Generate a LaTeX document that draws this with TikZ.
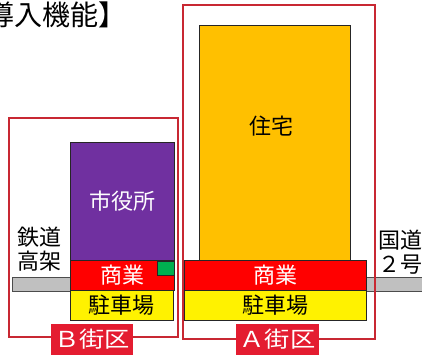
\documentclass[tikz,border=0pt]{standalone}
\usepackage{fontspec}
\setmainfont{Noto Sans CJK JP}
\definecolor{framered}{RGB}{200,40,50}
\definecolor{labelred}{RGB}{228,28,48}
\definecolor{purp}{RGB}{112,48,160}
\definecolor{oran}{RGB}{255,192,0}
\definecolor{grn}{RGB}{0,176,80}
\definecolor{road}{RGB}{192,192,192}
\begin{document}
\begin{tikzpicture}[x=1pt,y=-1pt,
  box/.style={draw=black!85, line width=0.9pt, inner sep=0pt, minimum width=#1},
  txt/.style={font=\fontsize{22}{24}\selectfont, inner sep=0pt},
  frame/.style={draw=framered, line width=2pt},
  lab/.style={fill=labelred, text=white, inner sep=0pt, font=\fontsize{22}{24}\selectfont, minimum height=31pt}
]
\useasboundingbox (0,0) rectangle (422,356);
\fill[white] (0,0) rectangle (422,356);
% title
\node[anchor=west, inner sep=0pt, font=\fontsize{28}{30}\selectfont] (title) at (-42,15) {【導入機能】};
% roads
\node[box=58pt, minimum height=14pt, fill=road, draw=black!70] (roadL) at (41,284) {};
\node[box=60pt, minimum height=14pt, fill=road, draw=black!70] (roadR) at (396,284) {};
% B block
\node[box=104pt, minimum height=118pt, fill=purp, text=white, txt] (city) at (122,201) {市役所};
\node[box=104pt, minimum height=30pt, fill=red, text=white, txt] (comB) at (122,275) {商業};
\node[box=17pt, minimum height=14pt, fill=grn] (green) at (165.5,268) {};
\node[box=103pt, minimum height=30pt, fill=yellow, txt] (parkB) at (121.5,305) {駐車場};
% A block
\node[box=151pt, minimum height=235pt, fill=oran] (house) at (274.5,142.5) {};
\node[txt] (houseT) at (271,126) {住宅};
\node[box=182pt, minimum height=30pt, fill=red, text=white, txt] (comA) at (275,275) {商業};
\node[box=182pt, minimum height=30pt, fill=yellow, txt] (parkA) at (275,305) {駐車場};
% frames
\draw[frame] (9,118) rectangle (178,337);
\draw[frame] (183,5) rectangle (375,339);
% side labels
\node[txt, align=center] (rail) at (39,249.5) {鉄道\\高架};
\node[txt, align=center] (route) at (400,252) {国道\\２号};
% block labels
\node[lab, minimum width=82pt] (labB) at (92,339.5) {\scalebox{1.15}[1]{Ｂ街区}};
\node[lab, minimum width=83pt] (labA) at (277.5,339.5) {\scalebox{1.15}[1]{Ａ街区}};
\end{tikzpicture}
\end{document}
